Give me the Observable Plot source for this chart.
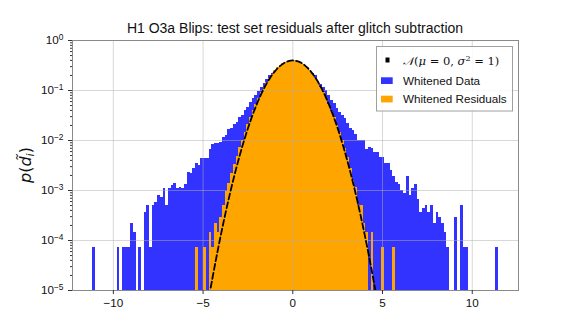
<!DOCTYPE html>
<html><head><meta charset="utf-8">
<script src="https://cdn.jsdelivr.net/npm/d3@7"></script>
<script src="https://cdn.jsdelivr.net/npm/@observablehq/plot@0.6"></script>
<style>
html,body{margin:0;padding:0;background:#fff;}
#chart svg{display:block;}
</style>
</head><body><div id="chart"></div>
<script>
// ---- data ----
const binStart = -11.146;      // left edge of first histogram bin
const binWidth = 0.15062;      // width of each bin (150 bins)
const densityPerCount = 7.24e-5; // density of a single sample in one bin

// Whitened Data histogram (counts per bin, 150 bins)
const dataCounts = [
  1,0,0,0,0,0,0,0,0,1,   0,1,1,1,3,2,0,1,0,5,
  7,1,7,8,11,10,15,7,15,17,   19,15,16,15,18,32,30,38,47,44,
  60,60,60,90,115,120,122,125,160,170,   230,245,290,310,400,440,550,640,800,940,
  1100,1340,1610,1950,2300,2700,3050,3350,3750,4150,   4550,4900,5150,5250,5250,5150,4900,4550,4150,3750,
  3350,3050,2700,2100,1800,1600,1390,1100,875,775,   600,510,440,377,300,238,220,180,140,139,
  135,90,102,95,79,81,64,62,49,47,   35,26,20,18,14,12,26,11,15,18,
  9,5,6,7,5,7,3,5,4,3,   2,1,0,0,4,0,7,1,1,0,
  0,0,0,0,0,0,0,0,0,1
];
// Whitened Residuals histogram (counts per bin, same bins)
const residualCounts = [
  0,0,0,0,0,0,0,0,0,0,   0,0,0,0,0,0,0,0,0,0,
  0,0,0,0,0,0,0,0,0,0,   0,0,0,0,0,0,0,0,1,0,
  0,1,0,2,1,3,2,4,7,13,   19,30,45,65,98,140,200,285,395,540,
  725,955,1245,1590,1985,2430,2915,3415,3910,4380,   4795,5130,5370,5490,5490,5370,5130,4795,4380,3910,
  3415,2915,2430,1985,1590,1240,952,722,537,392,   282,198,138,95,62,38,22,16,7,7,
  3,2,0,2,0,0,0,1,0,0,   0,1,0,0,0,0,0,0,0,0,
  0,0,0,0,0,0,0,0,0,0,   0,0,0,0,0,0,0,0,0,0,
  0,0,0,0,0,0,0,0,0,0
];
// N(0,1) reference curve, sampled values
const gaussX = [-4.75,-4.5,-4.25,-4,-3.75,-3.5,-3.25,-3,-2.75,-2.5,-2.25,-2,-1.75,-1.5,-1.25,-1,-0.75,-0.5,-0.25,0,
  0.25,0.5,0.75,1,1.25,1.5,1.75,2,2.25,2.5,2.75,3,3.25,3.5,3.75,4,4.25,4.5,4.75];
const gaussPdf = [5.04e-6,1.60e-5,4.77e-5,1.338e-4,3.53e-4,8.73e-4,2.029e-3,4.432e-3,9.094e-3,1.7528e-2,3.174e-2,5.399e-2,8.628e-2,0.12952,0.18265,0.24197,0.30114,0.35207,0.38667,0.39894,
  0.38667,0.35207,0.30114,0.24197,0.18265,0.12952,0.08628,0.05399,0.03174,0.017528,0.009094,0.004432,0.002029,8.73e-4,3.53e-4,1.338e-4,4.77e-5,1.60e-5,5.04e-6];

const xTicks = [-10, -5, 0, 5, 10];
const xTickLabels = ["\u221210", "\u22125", "0", "5", "10"];
const yTicks = [1e-5, 1e-4, 1e-3, 1e-2, 1e-1, 1];
const yTickExponents = ["\u22125", "\u22124", "\u22123", "\u22122", "\u22121", "0"];
const xDomain = [-12.276, 12.577];
const yDomain = [1e-5, 1];

const titleText = "H1 O3a Blips: test set residuals after glitch subtraction";
const legendLabels = ["Whitened Data", "Whitened Residuals"];
const colors = {data: "#3333ff", residuals: "#ffa500"};

// ---- build tables ----
function toBins(counts) {
  return counts.map((c, i) => ({
    x1: binStart + i * binWidth,
    x2: binStart + (i + 1) * binWidth,
    density: c * densityPerCount
  })).filter(d => d.density > 0);
}
const dataBins = toBins(dataCounts);
const residualBins = toBins(residualCounts);
const gauss = gaussX.map((x, i) => ({x, y: gaussPdf[i]}));
const minorTicks = [];
for (let k = -5; k < 0; k++) for (let m = 2; m <= 9; m++) minorTicks.push(m * Math.pow(10, k));

const baseline = 1e-7;
const plot = Plot.plot({
  width: 576, height: 331,
  marginLeft: 72, marginRight: 58, marginTop: 40, marginBottom: 41,
  style: {fontFamily: "'Liberation Sans', Arial, sans-serif", fontSize: "11.67px", background: "#fff", color: "#000", overflow: "visible"},
  x: {domain: xDomain, label: null},
  y: {type: "log", domain: yDomain, label: null},
  marks: [
    Plot.rect(dataBins, {x1: "x1", x2: "x2", y1: () => baseline, y2: "density", fill: colors.data, clip: true, inset: 0, shapeRendering: "crispEdges"}),
    Plot.rect(residualBins, {x1: "x1", x2: "x2", y1: () => baseline, y2: "density", fill: colors.residuals, clip: true, inset: 0, shapeRendering: "crispEdges"}),
    Plot.gridX(xTicks, {stroke: "#b0b0b0", strokeOpacity: 0.55, strokeWidth: 0.9}),
    Plot.gridY(yTicks, {stroke: "#b0b0b0", strokeOpacity: 0.55, strokeWidth: 0.9}),
    Plot.line(gauss, {x: "x", y: "y", stroke: "#000", strokeWidth: 1.8, strokeDasharray: "6,3", curve: "catmull-rom", clip: true}),
    Plot.frame({stroke: "#8a8a8a", strokeWidth: 1}),
    Plot.axisX(xTicks, {tickSize: 4, tickPadding: 4, stroke: "#333", tickFormat: (d) => xTickLabels[xTicks.indexOf(d)], fill: "#111"}),
    Plot.axisY(yTicks, {tickSize: 4, tickPadding: 5, stroke: "#333", tickFormat: d => "10|" + yTickExponents[yTicks.indexOf(d)], fill: "#111"}),
    Plot.axisY(minorTicks, {tickSize: 2, stroke: "#333", tickFormat: () => ""})
  ]
});
document.getElementById("chart").appendChild(plot);

const svg = d3.select(plot);
// superscript tick labels
svg.selectAll('[aria-label="y-axis tick label"] text').each(function() {
  const t = d3.select(this);
  const s = t.text();
  if (!s.includes("|")) return;
  const [base, exp] = s.split("|");
  t.text(base);
  t.append("tspan").attr("dy", "-0.45em").attr("font-size", "0.72em").text(exp);
});

// title
svg.append("text").attr("x", 295).attr("y", 33).attr("text-anchor", "middle")
  .attr("font-family", "'Liberation Sans', Arial, sans-serif").attr("font-size", 14).attr("fill", "#111")
  .text(titleText);

// y label  p(d~_i)
const yl = svg.append("text").attr("transform", "translate(31,165) rotate(-90)")
  .attr("text-anchor", "middle").attr("font-family", "'DejaVu Sans', sans-serif").attr("font-size", 16).attr("fill", "#111");
yl.append("tspan").attr("font-style", "italic").text("p");
yl.append("tspan").text("(");
yl.append("tspan").attr("font-style", "italic").text("d\u0303");
yl.append("tspan").attr("font-style", "italic").attr("font-size", "0.7em").attr("dy", "0.25em").text("i");
yl.append("tspan").attr("dy", "-0.18em").text(")");

// legend
const lg = svg.append("g").attr("text-anchor", "start");
lg.append("rect").attr("x", 376.5).attr("y", 46.5).attr("width", 136).attr("height", 64.5)
  .attr("fill", "#fff").attr("fill-opacity", 0.85).attr("stroke", "#a0a0a0").attr("stroke-width", 1);
lg.append("rect").attr("x", 385.5).attr("y", 57.5).attr("width", 4).attr("height", 5).attr("fill", "#000");
const nt = lg.append("text").attr("x", 403).attr("y", 64.5).attr("text-anchor", "start")
  .attr("font-family", "'DejaVu Serif', serif").attr("font-size", 11.5).attr("fill", "#111");
nt.append("tspan").attr("font-style", "italic").text("\u{1D4A9}");
nt.append("tspan").text("(");
nt.append("tspan").attr("font-style", "italic").text("\u03bc");
nt.append("tspan").text(" = 0, ");
nt.append("tspan").attr("font-style", "italic").text("\u03c3");
nt.append("tspan").attr("font-size", "0.7em").attr("dy", "-0.45em").text("2");
nt.append("tspan").attr("dy", "0.315em").text(" = 1)");
[[colors.data, legendLabels[0], 77.3, 84.5], [colors.residuals, legendLabels[1], 95.7, 103]].forEach(([c, label, ry, ty]) => {
  lg.append("rect").attr("x", 381).attr("y", ry).attr("width", 11.7).attr("height", 6.7).attr("fill", c);
  lg.append("text").attr("x", 403).attr("y", ty).attr("text-anchor", "start").attr("font-family", "'Liberation Sans', Arial, sans-serif")
    .attr("font-size", 11.67).attr("fill", "#111").text(label);
});
</script>
</body></html>
